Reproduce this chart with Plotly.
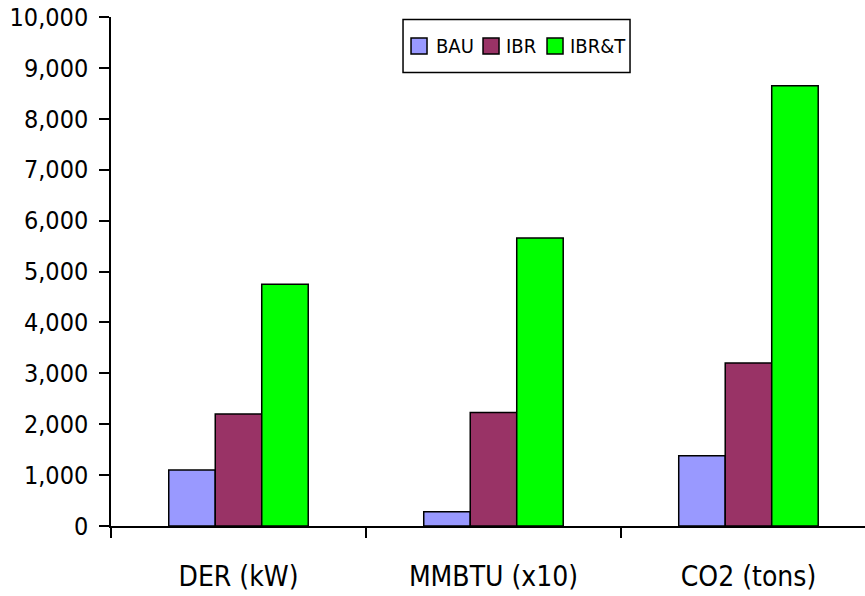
import plotly.graph_objects as go

# Categories and series values
categories = ["DER (kW)", "MMBTU (x10)", "CO2 (tons)"]
bau = [1100, 280, 1380]
ibr = [2200, 2230, 3200]
ibr_t = [4750, 5660, 8650]

series_names = ["BAU", "IBR", "IBR&T"]
series_colors = ["#9999FF", "#993366", "#00FF00"]

y_ticks = list(range(0, 10001, 1000))
y_tick_labels = [f"{v:,}" for v in y_ticks]

FONT = "DejaVu Sans Condensed, Liberation Sans Narrow, sans-serif"

fig = go.Figure()
for name, vals, color in zip(series_names, [bau, ibr, ibr_t], series_colors):
    fig.add_trace(go.Bar(
        x=categories, y=vals, name=name, showlegend=False,
        marker=dict(color=color, line=dict(color="black", width=1.5)),
    ))

# Boxed legend near the top, laid out in pixel offsets from one anchor point
LEG_X, LEG_Y = 0.3873, 0.995
LEG_W, LEG_H = 227, 53
swatch_left = [8, 80, 144]
text_left = [31, 101, 165]
SW = 16

fig.add_shape(
    type="rect", xref="paper", yref="paper",
    xsizemode="pixel", ysizemode="pixel", xanchor=LEG_X, yanchor=LEG_Y,
    x0=0, x1=LEG_W, y0=0, y1=-LEG_H,
    line=dict(color="black", width=1.5), fillcolor="white", layer="above",
)
for name, color, sx, tx in zip(series_names, series_colors, swatch_left, text_left):
    fig.add_shape(
        type="rect", xref="paper", yref="paper",
        xsizemode="pixel", ysizemode="pixel", xanchor=LEG_X, yanchor=LEG_Y,
        x0=sx, x1=sx + SW, y0=-LEG_H / 2 - SW / 2, y1=-LEG_H / 2 + SW / 2,
        line=dict(color="black", width=1.5), fillcolor=color, layer="above",
    )
    fig.add_annotation(
        x=LEG_X, y=LEG_Y, xref="paper", yref="paper",
        xanchor="left", yanchor="middle", xshift=tx, yshift=-LEG_H / 2,
        text=name, showarrow=False,
        font=dict(family=FONT, size=20, color="black"),
    )

fig.update_layout(
    width=865, height=596,
    margin=dict(l=111, r=0, t=17, b=70),
    paper_bgcolor="white", plot_bgcolor="white",
    barmode="group", bargap=0.453, bargroupgap=0,
    font=dict(family=FONT, size=25, color="black"),
    showlegend=False,
    xaxis=dict(
        range=[-0.5, 2.457],
        showline=True, linecolor="black", linewidth=1.5,
        ticks="outside", tickson="boundaries", ticklen=10, tickwidth=1.5,
        tickcolor="black", showgrid=False, ticklabelstandoff=25,
        tickfont=dict(family=FONT, size=28, color="black"),
        automargin=False,
    ),
    yaxis=dict(
        range=[0, 10000], tickvals=y_ticks, ticktext=y_tick_labels,
        showline=True, linecolor="black", linewidth=1.5,
        ticks="outside", ticklen=10, tickwidth=1.5, tickcolor="black",
        showgrid=False, zeroline=False, ticklabelstandoff=6,
        automargin=False,
    ),
)

fig.write_html("out.html")
